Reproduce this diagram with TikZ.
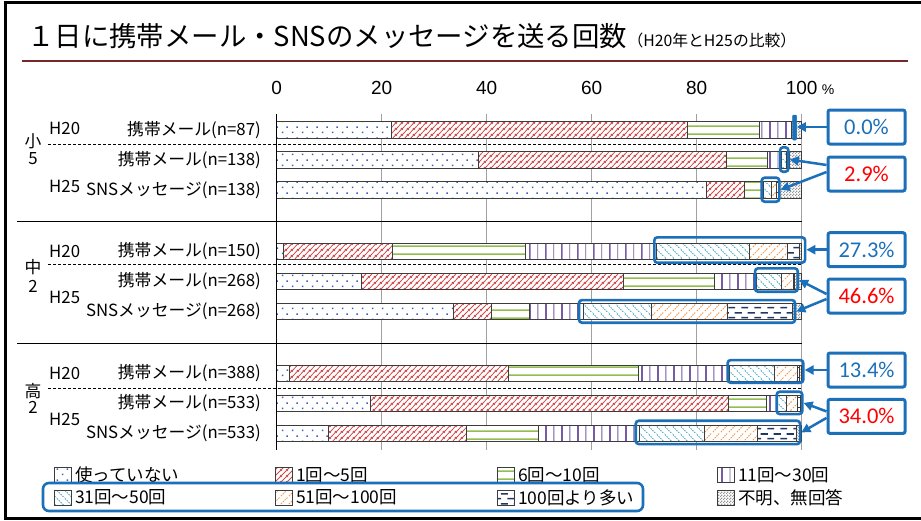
\documentclass[tikz,border=0pt]{standalone}
\usepackage{fontspec}
\setmainfont{Noto Sans CJK JP}
\newfontfamily\numfont{Liberation Sans}
\newfontfamily\calfont{Carlito}
\usetikzlibrary{patterns.meta,arrows.meta,calc}

\definecolor{cdot}{RGB}{55,100,185}
\definecolor{cred}{RGB}{205,75,75}
\definecolor{cgreen}{RGB}{146,190,80}
\definecolor{cpurp}{RGB}{120,90,165}
\definecolor{cteal}{RGB}{75,172,198}
\definecolor{corange}{RGB}{247,150,70}
\definecolor{cnavy}{RGB}{31,56,100}
\definecolor{cunk}{RGB}{150,150,150}
\definecolor{cblue}{RGB}{28,112,186}
\definecolor{ctitle}{RGB}{120,40,40}
\definecolor{cgrid}{RGB}{160,160,160}
\definecolor{cseg}{RGB}{60,60,60}
\definecolor{cred2}{RGB}{255,0,0}

\tikzdeclarepattern{name=pdots,type=uncolored,
  bottom left={(0pt,0pt)},top right={(10pt,11pt)},tile size={(10pt,11pt)},
  code={\fill (2pt,2pt) rectangle (3.6pt,3.6pt);
        \fill (7pt,7.5pt) rectangle (8.6pt,9.1pt);}}
\tikzdeclarepattern{name=pne,type=uncolored,
  bottom left={(0pt,0pt)},top right={(5.5pt,5.5pt)},tile size={(5.5pt,5.5pt)},
  code={\draw[line width=0.9pt] (-1pt,-1pt) -- (6.5pt,6.5pt);
        \draw[line width=0.9pt] (-1pt,4.5pt) -- (1pt,6.5pt);
        \draw[line width=0.9pt] (4.5pt,-1pt) -- (6.5pt,1pt);}}
\tikzdeclarepattern{name=pnewide,type=uncolored,
  bottom left={(0pt,0pt)},top right={(8pt,8pt)},tile size={(8pt,8pt)},
  code={\draw[line width=1pt,dash pattern=on 1.6pt off 1.2pt] (-1pt,-1pt) -- (9pt,9pt);}}
\tikzdeclarepattern{name=pnwwide,type=uncolored,
  bottom left={(0pt,0pt)},top right={(8pt,8pt)},tile size={(8pt,8pt)},
  code={\draw[line width=1pt,dash pattern=on 1.6pt off 1.2pt] (-1pt,9pt) -- (9pt,-1pt);}}
\tikzdeclarepattern{name=phor,type=uncolored,
  bottom left={(0pt,0pt)},top right={(8pt,8pt)},tile size={(8pt,8pt)},
  code={\draw[line width=1.6pt] (-1pt,2pt) -- (9pt,2pt);}}
\tikzdeclarepattern{name=pver,type=uncolored,
  bottom left={(0pt,0pt)},top right={(16pt,8pt)},tile size={(16pt,8pt)},
  code={\draw[line width=1.8pt] (2pt,-1pt) -- (2pt,9pt);
        \draw[line width=1pt] (10.3pt,-1pt) -- (10.3pt,9pt);}}
\tikzdeclarepattern{name=pdash,type=uncolored,
  bottom left={(0pt,0pt)},top right={(13pt,10pt)},tile size={(13pt,10pt)},
  code={\draw[line width=1.7pt] (0.5pt,2.5pt) -- (7.5pt,2.5pt);
        \draw[line width=1.7pt] (7pt,7.5pt) -- (14pt,7.5pt);
        \draw[line width=1.7pt] (-1pt,7.5pt) -- (1pt,7.5pt);}}
\tikzdeclarepattern{name=pchk,type=uncolored,
  bottom left={(0pt,0pt)},top right={(3pt,3pt)},tile size={(3pt,3pt)},
  code={\fill (0pt,0pt) rectangle (1.5pt,1.5pt);
        \fill (1.5pt,1.5pt) rectangle (3pt,3pt);}}

% one bar segment: y-centre, start %, end %, pattern, colour
\newcommand\seg[5]{\path[draw=cseg,line width=0.8pt,preaction={fill=white},
  pattern=#4,pattern color=#5]
  ({276.7+5.25*(#2)},{#1-8.3}) rectangle ({276.7+5.25*(#3)},{#1+8.3});}
% a whole bar: y, then 7 cumulative boundaries
\newcommand\barrow[8]{%
  \seg{#1}{0}{#2}{pdots}{cdot}%
  \seg{#1}{#2}{#3}{pne}{cred}%
  \seg{#1}{#3}{#4}{phor}{cgreen}%
  \seg{#1}{#4}{#5}{pver}{cpurp}%
  \seg{#1}{#5}{#6}{pnwwide}{cteal}%
  \seg{#1}{#6}{#7}{pnewide}{corange}%
  \seg{#1}{#7}{#8}{pdash}{cnavy}%
  \seg{#1}{#8}{100}{pchk}{cunk}}

\begin{document}
\begin{tikzpicture}[x=1pt,y=-1pt,
  every node/.style={inner sep=0pt,font=\fontsize{16.8}{19}\selectfont},
  rowlab/.style={anchor=east},
  hlab/.style={anchor=west},
  ticklab/.style={font=\numfont\fontsize{19}{21}\selectfont},
  callout/.style={draw=cblue,line width=3pt,fill=white,rounded corners=2pt,
    minimum width=77pt,minimum height=34pt,font=\calfont\fontsize{22.5}{25}\selectfont},
  hl/.style={draw=cblue,line width=2.6pt,rounded corners=3pt},
  callarrow/.style={draw=cblue,line width=2.5pt,-{Triangle[length=9pt,width=9pt]}},
  legicon/.style={draw=cseg,line width=0.7pt,preaction={fill=white},
    minimum width=17pt,minimum height=15pt},
  legtext/.style={anchor=west,font=\fontsize{17.5}{19}\selectfont},
  grid/.style={draw=cgrid,line width=1pt},
  sepline/.style={draw=black,line width=0.8pt},
  dashline/.style={draw=black,line width=0.8pt,dash pattern=on 3pt off 2pt}]
\useasboundingbox (0,0) rectangle (921,520);
\fill[white] (0,0) rectangle (921,520);
\draw[line width=3pt] (5.5,2) rectangle (930,518);

% title
\node[anchor=base west,font=\fontsize{27.4}{30}\selectfont] (title) at (27,46)
  {１日に携帯メール・SNSのメッセージを送る回数};
\node[anchor=base west,font=\fontsize{15.8}{18}\selectfont] (subt) at (title.base east)
  {（H20年とH25の比較）};
\draw[ctitle,line width=2pt] (22,61) -- (908,61);

% axis labels and grid
\foreach \p/\nm in {0/t0,20/t20,40/t40,60/t60,80/t80,100/t100}
  \node[ticklab] (\nm) at ({276.7+5.25*\p},88) {\p};
\node[anchor=base west,font=\numfont\fontsize{14}{16}\selectfont] (tpct) at ([xshift=4pt]t100.base east) {\%};
\foreach \p in {20,40,60,80,100}
  \draw[grid] ({276.7+5.25*\p},114) -- ({276.7+5.25*\p},450);

% bars
\barrow{130}{21.8}{78.2}{91.9}{98.1}{98.1}{98.1}{98.1}
\barrow{160}{38.4}{85.6}{93.5}{96.1}{97.0}{97.4}{97.6}
\barrow{190}{81.9}{89.0}{92.5}{92.7}{94.2}{95.2}{95.5}
\barrow{251.5}{1.3}{22.0}{47.3}{72.4}{90.0}{97.3}{99.6}
\barrow{281.5}{16.2}{66.0}{83.3}{91.4}{96.2}{98.4}{98.6}
\barrow{311.5}{33.6}{40.8}{48.1}{58.5}{71.3}{85.9}{98.2}
\barrow{373.5}{2.5}{44.1}{68.9}{86.3}{94.8}{99.2}{99.6}
\barrow{403.5}{17.9}{86.0}{93.2}{95.1}{97.1}{99.2}{99.7}
\barrow{433.5}{9.8}{36.1}{49.8}{69.0}{81.4}{91.6}{99.0}

% axis and separators
\draw[black,line width=1pt] (276.7,114) -- (276.7,450);
\draw[sepline] (17,221) -- (801.7,221);
\draw[sepline] (17,343.3) -- (801.7,343.3);
\draw[dashline] (48,144.3) -- (801.7,144.3);
\draw[dashline] (48,264.8) -- (801.7,264.8);
\draw[dashline] (48,388.3) -- (801.7,388.3);

% group labels
\node (g1a) at (33,141) {小};
\node (g1b) at (33,159) {5};
\node (g2a) at (33,267) {中};
\node (g2b) at (33,286) {2};
\node (g3a) at (33,391) {高};
\node (g3b) at (33,407.5) {2};
\node[hlab] (y11) at (49,128) {H20};
\node[hlab] (y12) at (49,186) {H25};
\node[hlab] (y21) at (49,251.5) {H20};
\node[hlab] (y22) at (49,297) {H25};
\node[hlab] (y31) at (49,373) {H20};
\node[hlab] (y32) at (49,419) {H25};

% row labels
\node[rowlab] (r11) at (261,130) {携帯メール(n=87)};
\node[rowlab] (r12) at (261,160) {携帯メール(n=138)};
\node[rowlab] (r13) at (261,190) {SNSメッセージ(n=138)};
\node[rowlab] (r21) at (261,251.5) {携帯メール(n=150)};
\node[rowlab] (r22) at (261,281.5) {携帯メール(n=268)};
\node[rowlab] (r23) at (261,311.5) {SNSメッセージ(n=268)};
\node[rowlab] (r31) at (261,373.5) {携帯メール(n=388)};
\node[rowlab] (r32) at (261,403.5) {携帯メール(n=533)};
\node[rowlab] (r33) at (261,433.5) {SNSメッセージ(n=533)};

% highlight boxes
\node[draw=cblue,fill=cblue,line width=0.5pt,rounded corners=1pt,minimum width=4pt,minimum height=25pt] (h11) at (794.5,127.5) {};
\node[hl,minimum width=8.3pt,minimum height=24.4pt] (h12) at (784.2,159.5) {};
\node[hl,minimum width=17.6pt,minimum height=24pt] (h13) at (770.5,189.7) {};
\node[hl,minimum width=150.7pt,minimum height=25.4pt] (h21) at (729.7,250) {};
\node[hl,minimum width=42.7pt,minimum height=23.4pt] (h22) at (776.4,280) {};
\node[hl,minimum width=216pt,minimum height=22.7pt] (h23) at (687,311.4) {};
\node[hl,minimum width=75.6pt,minimum height=22.7pt] (h31) at (765.5,371.4) {};
\node[hl,minimum width=25.6pt,minimum height=22.3pt] (h32) at (789.5,402.9) {};
\node[hl,minimum width=164.3pt,minimum height=23.3pt] (h33) at (717.9,432.4) {};

% callouts
\node[callout,text=cblue] (c1) at (866.5,127) {0.0\%};
\node[callout,text=cred2] (c2) at (866.5,174) {2.9\%};
\node[callout,text=cblue] (c3) at (866.5,249.7) {27.3\%};
\node[callout,text=cred2] (c4) at (866.5,296) {46.6\%};
\node[callout,text=cblue] (c5) at (866.5,370) {13.4\%};
\node[callout,text=cred2] (c6) at (866.5,416.4) {34.0\%};

% arrows
\draw[callarrow] (c1.west) -- (c1.west -| h11.east);
\draw[callarrow] ($(c2.west)+(0,-9)$) -- (h12.east);
\draw[callarrow] ($(c2.west)+(0,-2)$) -- (h13.east);
\draw[callarrow] (c3.west) -- (c3.west -| h21.east);
\draw[callarrow] ($(c4.west)+(0,-2)$) -- (h22.east);
\draw[callarrow] ($(c4.west)+(0,3)$) -- (h23.east);
\draw[callarrow] (c5.west) -- (c5.west -| h31.east);
\draw[callarrow] ($(c6.west)+(0,-5)$) -- (h32.east);
\draw[callarrow] ($(c6.west)+(0,1.5)$) -- (h33.east);

% legend
\node[legicon,pattern=pdots,pattern color=cdot] (l1) at (63,475) {};
\node[legtext] (lt1) at ([xshift=3pt]l1.east) {使っていない};
\node[legicon,pattern=pne,pattern color=cred] (l2) at (284,475) {};
\node[legtext] (lt2) at ([xshift=3pt]l2.east) {1回～5回};
\node[legicon,pattern=phor,pattern color=cgreen] (l3) at (506,475) {};
\node[legtext] (lt3) at ([xshift=3pt]l3.east) {6回～10回};
\node[legicon,pattern=pver,pattern color=cpurp] (l4) at (726,475) {};
\node[legtext] (lt4) at ([xshift=3pt]l4.east) {11回～30回};
\node[legicon,pattern=pnwwide,pattern color=cteal] (l5) at (63,497.5) {};
\node[legtext] (lt5) at ([xshift=3pt]l5.east) {31回～50回};
\node[legicon,pattern=pnewide,pattern color=corange] (l6) at (284,497.5) {};
\node[legtext] (lt6) at ([xshift=3pt]l6.east) {51回～100回};
\node[legicon,pattern=pdash,pattern color=cnavy] (l7) at (506,497.5) {};
\node[legtext] (lt7) at ([xshift=3pt]l7.east) {100回より多い};
\node[legicon,pattern=pchk,pattern color=cunk] (l8) at (726,497.5) {};
\node[legtext] (lt8) at ([xshift=3pt]l8.east) {不明、無回答};
\node[hl,rounded corners=6pt,minimum width=600pt,minimum height=28pt] (lhl) at (343,497) {};
\end{tikzpicture}
\end{document}
